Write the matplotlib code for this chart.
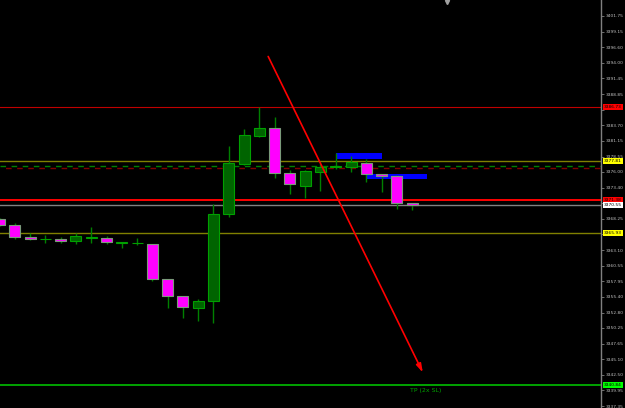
import matplotlib
matplotlib.use("Agg")
import matplotlib.pyplot as plt
import matplotlib.transforms as mtransforms
import numpy as np

# ---- data ----
opens  = [3368.24, 3367.25, 3365.27, 3364.92, 3364.94, 3364.66, 3365.05, 3365.05, 3364.23, 3364.22,
          3364.06, 3358.29, 3355.58, 3353.60, 3354.76, 3369.02, 3377.27, 3381.99, 3383.21, 3375.78,
          3373.74, 3376.05, 3376.77, 3376.87, 3377.53, 3375.62, 3375.39, 3370.93]
highs  = [3368.40, 3367.53, 3365.88, 3365.60, 3365.32, 3365.88, 3366.97, 3365.43, 3364.46, 3365.05,
          3364.10, 3358.33, 3355.60, 3355.04, 3370.72, 3380.29, 3383.05, 3386.78, 3385.13, 3376.33,
          3376.33, 3377.53, 3379.09, 3378.64, 3378.14, 3375.65, 3375.42, 3370.95]
lows   = [3367.10, 3364.99, 3364.77, 3364.33, 3364.33, 3364.06, 3364.33, 3364.06, 3363.50, 3363.95,
          3358.01, 3353.60, 3351.85, 3351.45, 3351.02, 3368.62, 3377.20, 3381.83, 3375.06, 3372.32,
          3371.76, 3372.86, 3376.44, 3376.05, 3374.40, 3372.75, 3369.89, 3369.73]
closes = [3367.25, 3365.22, 3364.94, 3364.95, 3364.61, 3365.43, 3365.27, 3364.39, 3364.44, 3364.24,
          3358.29, 3355.53, 3353.67, 3354.71, 3369.02, 3377.44, 3382.11, 3383.21, 3375.78, 3373.97,
          3376.11, 3376.77, 3376.94, 3377.65, 3375.62, 3375.34, 3370.83, 3370.55]

tick_values = [3401.75, 3399.15, 3396.60, 3394.00, 3391.45, 3388.85, 3386.30, 3383.70, 3381.15,
               3378.55, 3376.00, 3373.40, 3370.85, 3368.25, 3365.70, 3363.10, 3360.55, 3357.95,
               3355.40, 3352.80, 3350.25, 3347.65, 3345.10, 3342.50, 3339.95, 3337.35]
hidden_ticks = [3386.30, 3370.85, 3365.70]   # covered by price label boxes

level_red_top = 3386.73
level_olive_top = 3377.81
level_dash_green = 3376.94
level_dash_red = 3376.71
level_red_main = 3371.38
level_gray = 3370.55
level_olive_low = 3365.93
level_tp = 3340.84

zone1 = (22.0, 25.0, 3378.10, 3379.09)   # x0, x1, y0, y1
zone2 = (24.0, 28.0, 3374.79, 3375.67)
arrow_start = (17.5, 3395.48)
arrow_end = (27.78, 3342.49)
tp_label = "TP (2x SL)"

# ---- figure ----
W, H = 625, 408
fig = plt.figure(figsize=(W / 100, H / 100), dpi=100, facecolor="black")
ax = fig.add_axes([0, 0, 601 / W, 1])
ax.set_facecolor("black")
ax.set_xlim(0.03, 39.36)
ax.set_ylim(3337.04, 3404.39)

x = np.arange(len(opens))

# horizontal levels
ax.axhline(level_red_top, color="#C00000", lw=0.8, zorder=1)
ax.axhline(level_olive_top, color="#808000", lw=1.0, zorder=1)
ax.axhline(level_dash_green, color="#008000", lw=1.0, ls=(0, (4, 4)), zorder=1)
ax.axhline(level_dash_red, color="#800000", lw=1.0, ls=(4, (4, 4)), zorder=1)
ax.axhline(level_red_main, color="#FF0000", lw=1.4, zorder=1)
ax.axhline(level_gray, color="#808080", lw=1.0, zorder=1)
ax.axhline(level_olive_low, color="#808000", lw=1.0, zorder=1)
ax.axhline(level_tp, color="#00B000", lw=1.3, zorder=1)

# zones
for z in (zone1, zone2):
    ax.add_patch(plt.Rectangle((z[0], z[2]), z[1] - z[0], z[3] - z[2],
                               facecolor="#0000FF", edgecolor="none", zorder=2))

# candles
ax.vlines(x, lows, highs, color="#008000", lw=1.0, zorder=3)
for xi, o, c in zip(x, opens, closes):
    bull = c >= o
    bottom = min(o, c)
    h = max(abs(c - o), 0.05)
    if bull:
        fc, ec = "#006400", "#00A000"
    else:
        fc, ec = "#FF00FF", "#7A9A7A"
    ax.add_patch(plt.Rectangle((xi - 0.36, bottom), 0.72, h, facecolor=fc,
                               edgecolor=ec, lw=0.8, zorder=4))

# arrow
ax.annotate("", xy=arrow_end, xytext=arrow_start,
            arrowprops=dict(arrowstyle="-|>,head_length=0.5,head_width=0.15",
                            color="#FF0000", lw=1.2), zorder=5)

ax.text(27.9, 3340.0, tp_label, color="#00A000", fontsize=4.5,
        ha="center", va="center", zorder=5)

# small marker top
ax.plot([29.3], [3404.1], marker="v", color="#A0A0A0", ms=3, clip_on=False, zorder=6)

# axis styling
for s in ("top", "left", "bottom"):
    ax.spines[s].set_visible(False)
ax.spines["right"].set_color("#808080")
ax.spines["right"].set_linewidth(1.0)
ax.set_xticks([])
ax.yaxis.tick_right()
ax.set_yticks(tick_values)
ax.set_yticklabels(["" if v in hidden_ticks else f"{v:.2f}" for v in tick_values])
ax.tick_params(axis="y", colors="#808080", labelcolor="#C0C0C0", labelsize=3.2,
               length=2, width=0.6, pad=1.5)

# price label boxes
trans = mtransforms.blended_transform_factory(ax.transAxes, ax.transData)
boxes = [
    (level_red_top, "#FF0000", "#000000"),
    (level_olive_top, "#FFFF00", "#000000"),
    (level_red_main, "#FF0000", "#000000"),
    (level_gray, "#FFFFFF", "#000000"),
    (level_olive_low, "#FFFF00", "#000000"),
    (level_tp, "#00FF00", "#000000"),
]
for val, bc, tc in boxes:
    ax.text(1.0048, val, f"{val:.2f}", transform=trans, fontsize=3.2, color=tc,
            ha="left", va="center", clip_on=False, zorder=10,
            bbox=dict(boxstyle="square,pad=0.25", facecolor=bc, edgecolor="none"))

fig.savefig("out.png", dpi=100, facecolor="black")
